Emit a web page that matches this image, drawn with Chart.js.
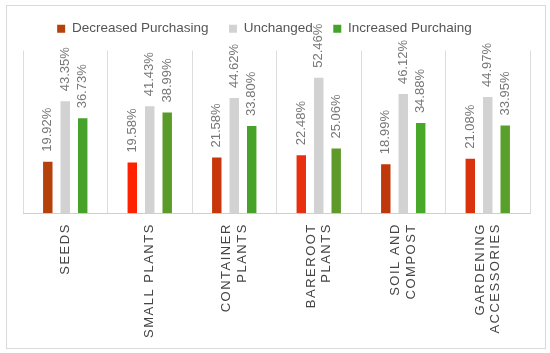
<!DOCTYPE html>
<html>
<head>
<meta charset="utf-8">
<script src="https://cdn.jsdelivr.net/npm/chart.js@4.4.1/dist/chart.umd.min.js"></script>
<style>
  body { margin: 0; background: #fff; }
  #caixa { position: absolute; left: 6px; top: 5px; width: 538px; height: 342px; border: 1px solid #d9d9d9; }
</style>
</head>
<body>
<div id="caixa"><canvas id="comprasGrafico" width="538" height="342"></canvas></div>
<script>
const categorias = [["SEEDS"], ["SMALL PLANTS"], ["CONTAINER", "PLANTS"], ["BAREROOT", "PLANTS"], ["SOIL AND", "COMPOST"], ["GARDENING", "ACCESSORIES"]];
const diminuiu = [19.92, 19.58, 21.58, 22.48, 18.99, 21.08];
const inalterado = [43.35, 41.43, 44.62, 52.46, 46.12, 44.97];
const aumentou = [36.73, 38.99, 33.80, 25.06, 34.88, 33.95];

// cores por barra (a imagem original tem tons variados)
const coresVermelho = ["#b5410b", "#ff2200", "#c8370b", "#e83010", "#bf380c", "#d8330c"];
const coresVerde = ["#47a229", "#5a9a28", "#47a229", "#5e9a2a", "#48a82a", "#58a02a"];

const fonte = '"Liberation Sans", Arial, Helvetica, sans-serif';
Chart.defaults.font.family = fonte;

// rotulos de valor girados em cima das barras + espacamento de letras no eixo x
const rotulosPlugin = {
    id: "rotulos",
    beforeInit(chart) {
        const legenda = chart.legend;
        // ajusta a altura reservada pra legenda
        const fitOriginal = legenda.fit;
        legenda.fit = function () {
            fitOriginal.call(this);
            this.height -= 1.5;
        };
        // legenda levemente deslocada pra esquerda e pra cima
        const drawOriginal = legenda.draw;
        legenda.draw = function () {
            this.ctx.save();
            this.ctx.translate(-12, -6.5);
            drawOriginal.call(this);
            this.ctx.restore();
        };
    },
    beforeDraw(chart) {
        // centraliza rotulos de duas linhas
        const itens = chart.scales.x.getLabelItems();
        itens.forEach(it => {
            if (Array.isArray(it.label) && it.label.length > 1 && !it._centrado) {
                it.options.translation[0] -= (it.label.length - 1) * it.font.lineHeight / 2;
                it._centrado = true;
            }
        });
    },
    afterDatasetsDraw(chart) {
        const ctx = chart.ctx;
        ctx.save();
        ctx.font = "13px " + fonte;
        ctx.fillStyle = "#777";
        ctx.textAlign = "left";
        ctx.textBaseline = "middle";
        chart.data.datasets.forEach((ds, i) => {
            chart.getDatasetMeta(i).data.forEach((barra, j) => {
                ctx.save();
                ctx.translate(barra.x, barra.y - 10);
                ctx.rotate(-Math.PI / 2);
                ctx.fillText(ds.data[j].toFixed(2) + "%", 0, 0);
                ctx.restore();
            });
        });
        ctx.restore();
        ctx.letterSpacing = "1.5px";
    },
    afterDraw(chart) {
        chart.ctx.letterSpacing = "0px";
    }
};

new Chart(document.getElementById("comprasGrafico"), {
    type: "bar",
    data: {
        labels: categorias,
        datasets: [{
            label: "Decreased Purchasing",
            data: diminuiu,
            backgroundColor: coresVermelho
        }, {
            label: "Unchanged",
            data: inalterado,
            backgroundColor: "#d2d2d2"
        }, {
            label: "Increased Purchaing",
            data: aumentou,
            backgroundColor: coresVerde
        }]
    },
    options: {
        responsive: false,
        animation: false,
        categoryPercentage: 0.62,
        barPercentage: 0.54,
        layout: {
            padding: { top: 2, left: 16, right: 15, bottom: 4 }
        },
        scales: {
            x: {
                // espaco extra pro espacamento entre letras
                afterFit(escala) {
                    escala.height += 14;
                },
                grid: { offset: true, color: "#dcdcdc", drawTicks: false },
                border: { color: "#cfcfcf" },
                ticks: {
                    z: 1,
                    autoSkip: false,
                    minRotation: 90,
                    maxRotation: 90,
                    padding: 10,
                    color: "#444",
                    font: { size: 13 }
                }
            },
            y: {
                display: false,
                min: 0,
                max: 63
            }
        },
        plugins: {
            legend: {
                position: "top",
                labels: {
                    boxWidth: 8,
                    boxHeight: 8,
                    padding: 20.5,
                    color: "#555",
                    font: { size: 13.5 }
                }
            },
            tooltip: { enabled: false }
        }
    },
    plugins: [rotulosPlugin]
});
</script>
</body>
</html>
